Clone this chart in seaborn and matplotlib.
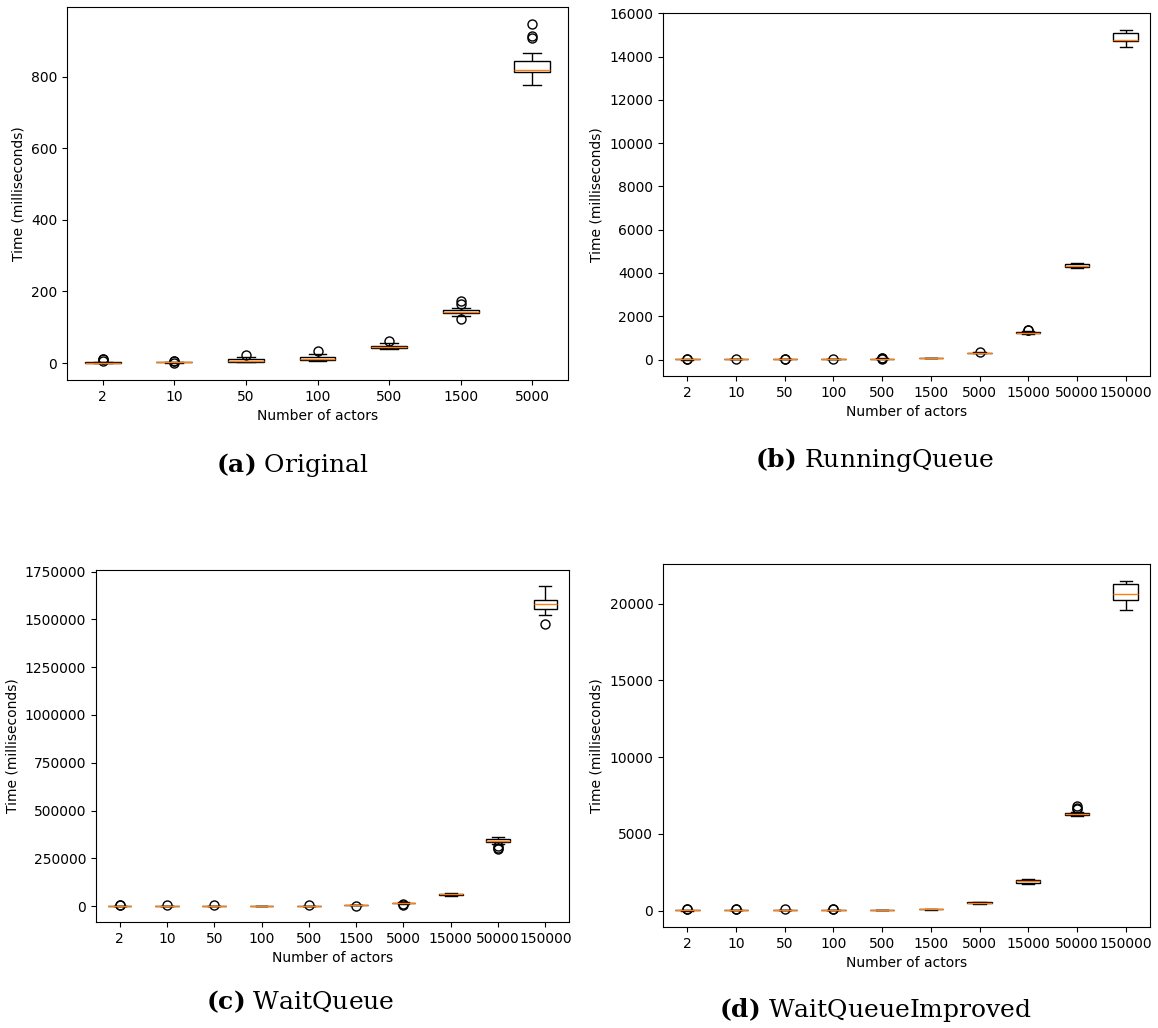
import numpy as np
import pandas as pd
import matplotlib
matplotlib.use("Agg")
import matplotlib.pyplot as plt
from matplotlib.ticker import ScalarFormatter
import seaborn as sns

# ---- Benchmark timings (milliseconds): five-number summaries + outliers per actor count ----

actors_a = ["2", "10", "50", "100", "500", "1500", "5000"]
actors_full = ["2", "10", "50", "100", "500", "1500", "5000", "15000", "50000", "150000"]

# (a) Original
orig_lo = [0, 1.5, 2, 7, 40, 131, 777]
orig_q1 = [0.5, 2, 4, 8, 43, 139, 813]
orig_med = [1, 2.5, 7, 10, 46, 143, 819]
orig_q3 = [2, 3, 10, 16, 49, 148, 843]
orig_hi = [3.5, 4, 17, 26, 55, 154, 867]
orig_out = [[7, 10, 12], [0, 5.5, 7], [23], [33], [61], [124, 166, 174], [909, 912, 947]]

# (b) RunningQueue
run_lo = [0, 0.5, 1, 3, 20, 52, 285, 1190, 4230, 14450]
run_q1 = [1, 1.5, 3, 6, 28, 62, 300, 1220, 4280, 14710]
run_med = [2, 2.5, 5, 9, 32, 70, 312, 1245, 4340, 14780]
run_q3 = [3, 3.5, 7, 12, 38, 76, 322, 1265, 4420, 15110]
run_hi = [5, 6, 12, 20, 50, 90, 340, 1300, 4460, 15250]
run_out = [[12, 20], [14], [20, 28], [30], [5, 70, 80], [], [360], [1350, 1380], [], []]

# (c) WaitQueue
wait_lo = [200, 300, 400, 900, 200, 3000, 12000, 53000, 325000, 1521000]
wait_q1 = [500, 600, 700, 1200, 600, 4500, 14500, 57000, 337000, 1554000]
wait_med = [800, 900, 1000, 1500, 900, 5200, 16000, 61000, 342000, 1582000]
wait_q3 = [1200, 1200, 1300, 1800, 1300, 6000, 17500, 64000, 350000, 1604000]
wait_hi = [2000, 1800, 2000, 2300, 2200, 7500, 20000, 68000, 362000, 1675000]
wait_out = [[3500, 4000], [3000], [3500], [], [3500], [1500], [6000, 9000], [],
            [300000, 305000, 314000], [1474000]]

# (d) WaitQueueImproved
imp_lo = [0, 2, 5, 10, 4, 65, 440, 1740, 6140, 19590]
imp_q1 = [10, 10, 15, 20, 8, 75, 460, 1790, 6230, 20220]
imp_med = [20, 20, 25, 30, 12, 87, 500, 1890, 6310, 20590]
imp_q3 = [30, 30, 35, 40, 16, 100, 540, 2000, 6370, 21260]
imp_hi = [50, 55, 60, 65, 22, 115, 560, 2070, 6450, 21500]
imp_out = [[80, 100], [75, 90], [85], [80, 95], [], [], [], [], [6620, 6700, 6780], []]

panels = [
    ("(a)", "Original", actors_a, orig_lo, orig_q1, orig_med, orig_q3, orig_hi, orig_out),
    ("(b)", "RunningQueue", actors_full, run_lo, run_q1, run_med, run_q3, run_hi, run_out),
    ("(c)", "WaitQueue", actors_full, wait_lo, wait_q1, wait_med, wait_q3, wait_hi, wait_out),
    ("(d)", "WaitQueueImproved", actors_full, imp_lo, imp_q1, imp_med, imp_q3, imp_hi, imp_out),
]


def long_table(cats, lo, q1, med, q3, hi, out, k=10):
    """Expand each summary into a sample whose box statistics reproduce it."""
    rows = []
    for i, c in enumerate(cats):
        vals = [lo[i]] * k + [q1[i]] * k + [med[i]] * k + [q3[i]] * k + [hi[i]] * k + list(out[i])
        rows += [(c, v) for v in vals]
    return pd.DataFrame(rows, columns=["actors", "time"])


plt.rcParams["font.family"] = ["DejaVu Sans"]
plt.rcParams["mathtext.fontset"] = "dejavuserif"

W, H = 1158, 1028
fig = plt.figure(figsize=(W / 100, H / 100), dpi=100)

# axes boxes in pixels: left, top, right, bottom
boxes = [(67, 7, 568, 380), (663, 13, 1150, 376), (96, 570, 569, 922), (663, 564, 1150, 927)]
captions = [(292, 465), (875, 460), (300, 1002), (875, 1010)]

for (tag, name, cats, lo, q1, med, q3, hi, out), (l, t, r, b), (cx, cy) in zip(panels, boxes, captions):
    ax = fig.add_axes([l / W, 1 - b / H, (r - l) / W, (b - t) / H])
    df = long_table(cats, lo, q1, med, q3, hi, out)
    sns.boxplot(
        data=df, x="actors", y="time", order=cats, ax=ax,
        width=0.5, color="white", linecolor="black", linewidth=1.0,
        fliersize=6.5,
        flierprops=dict(marker="o", markerfacecolor="none", markeredgecolor="black", markeredgewidth=1.0),
        medianprops=dict(color="#ff7f0e", linewidth=1.0),
        whiskerprops=dict(color="black", linewidth=1.0),
        capprops=dict(color="black", linewidth=1.0),
        boxprops=dict(edgecolor="black", linewidth=1.0),
    )
    ax.set_xlabel("Number of actors", fontsize=10)
    ax.set_ylabel("Time (milliseconds)", fontsize=10)
    fmt = ScalarFormatter(useOffset=False)
    fmt.set_scientific(False)
    ax.yaxis.set_major_formatter(fmt)
    ax.tick_params(labelsize=10)
    ax.margins(y=0.05)
    for s in ax.spines.values():
        s.set_linewidth(0.8)
    fig.text(cx / W, 1 - cy / H, r"$\mathbf{" + tag + "}$ " + name,
             ha="center", va="center", fontsize=18, family="DejaVu Serif")

fig.savefig("out.png", dpi=100)
